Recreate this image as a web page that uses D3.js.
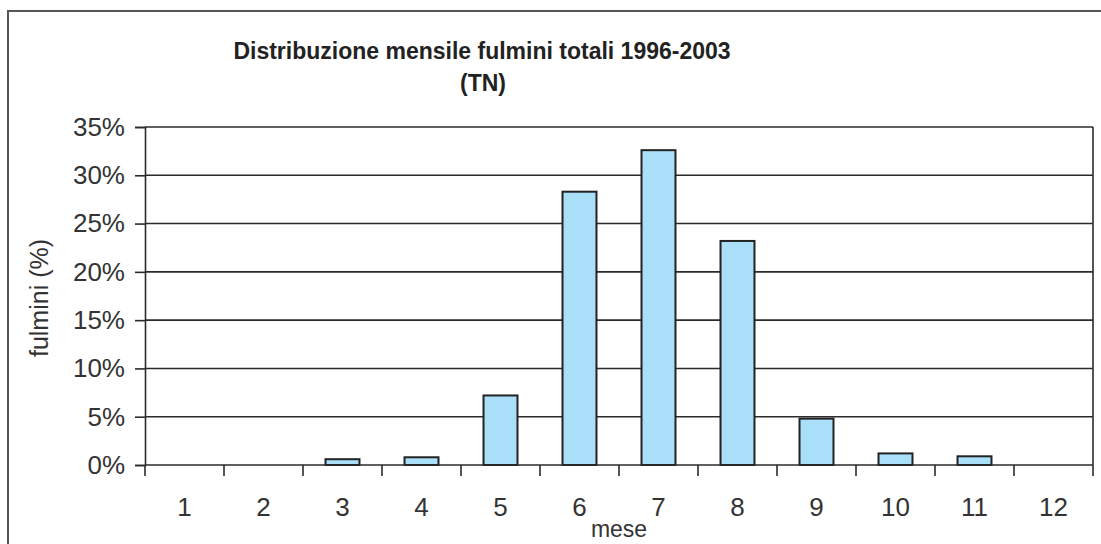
<!DOCTYPE html>
<html>
<head>
<meta charset="utf-8">
<script src="https://cdn.jsdelivr.net/npm/d3@7"></script>
<style>
  html, body { margin: 0; padding: 0; background: #fff; }
  svg { display: block; font-family: "Liberation Sans", Arial, Helvetica, sans-serif; }
</style>
</head>
<body>
<svg id="chart" width="1101" height="544"></svg>
<script>
const months = ["1","2","3","4","5","6","7","8","9","10","11","12"];
const values = [0, 0, 0.6, 0.8, 7.2, 28.3, 32.6, 23.2, 4.8, 1.2, 0.9, 0];
const yTicks = [0, 5, 10, 15, 20, 25, 30, 35];
const titleLines = ["Distribuzione mensile fulmini totali 1996-2003", "(TN)"];
const xLabel = "mese";
const yLabel = "fulmini (%)";

const svg = d3.select("#chart");
const W = 1101, H = 544;
const m = { left: 145, right: 1093, top: 127, bottom: 465 };
const ink = "#2b2b2b";

// outer chart border (cut off on right and bottom)
svg.append("rect")
  .attr("x", 8).attr("y", 11)
  .attr("width", W + 20).attr("height", H + 20)
  .attr("fill", "none").attr("stroke", "#555").attr("stroke-width", 2);

const x = d3.scaleBand().domain(months).range([m.left, m.right]).paddingInner(0.57).paddingOuter(0.285);
const xEdges = d3.scaleLinear().domain([0, months.length]).range([m.left, m.right]);
const y = d3.scaleLinear().domain([0, 35]).range([m.bottom, m.top]);

// gridlines
svg.append("g").selectAll("line").data(yTicks.filter(d => d > 0)).join("line")
  .attr("x1", m.left).attr("x2", m.right)
  .attr("y1", d => y(d)).attr("y2", d => y(d))
  .attr("stroke", ink).attr("stroke-width", 1.6);

// right frame border
svg.append("line")
  .attr("x1", m.right).attr("x2", m.right)
  .attr("y1", m.top).attr("y2", m.bottom)
  .attr("stroke", ink).attr("stroke-width", 1.6);

// bars
svg.append("g").selectAll("rect").data(values).join("rect")
  .attr("x", (d, i) => x(months[i]))
  .attr("width", x.bandwidth())
  .attr("y", d => y(d))
  .attr("height", d => y(0) - y(d))
  .attr("fill", "#aadff9")
  .attr("stroke", "#222")
  .attr("stroke-width", 2)
  .style("display", d => d > 0 ? null : "none");

// y axis
const yAxis = d3.axisLeft(y).tickValues(yTicks).tickFormat(d => d + "%").tickSize(10).tickPadding(10);
const gy = svg.append("g").attr("transform", `translate(${m.left},0)`).call(yAxis);
gy.select(".domain").attr("stroke", ink).attr("stroke-width", 1.6);
gy.selectAll(".tick line").attr("stroke", ink).attr("stroke-width", 1.6);
gy.selectAll(".tick text").attr("font-size", 26).attr("fill", "#333")
  .attr("font-family", "Liberation Sans, Arial, sans-serif");

// x axis baseline
svg.append("line")
  .attr("x1", m.left).attr("x2", m.right)
  .attr("y1", y(0)).attr("y2", y(0))
  .attr("stroke", ink).attr("stroke-width", 1.6);

// x tick marks between categories
svg.append("g").selectAll("line").data(d3.range(months.length + 1)).join("line")
  .attr("x1", d => xEdges(d)).attr("x2", d => xEdges(d))
  .attr("y1", y(0)).attr("y2", y(0) + 11)
  .attr("stroke", ink).attr("stroke-width", 1.6);

// x labels
const xAxis = d3.axisBottom(x).tickSize(0).tickPadding(0);
const gx = svg.append("g").attr("transform", `translate(0,${m.bottom})`).call(xAxis);
gx.select(".domain").remove();
gx.selectAll(".tick text").attr("font-size", 26).attr("fill", "#333")
  .attr("y", 0).attr("dy", 0)
  .attr("transform", "translate(0,51)")
  .attr("font-family", "Liberation Sans, Arial, sans-serif");

// title
svg.append("text").attr("x", 482).attr("y", 59).attr("text-anchor", "middle")
  .attr("font-size", 23).attr("font-weight", "bold").attr("fill", "#222")
  .text(titleLines[0]);
svg.append("text").attr("x", 483).attr("y", 91).attr("text-anchor", "middle")
  .attr("font-size", 23).attr("font-weight", "bold").attr("fill", "#222")
  .text(titleLines[1]);

// axis titles
svg.append("text").attr("x", 619).attr("y", 537).attr("text-anchor", "middle")
  .attr("font-size", 23).attr("fill", "#333").text(xLabel);
svg.append("text").attr("transform", "translate(48,298) rotate(-90)").attr("text-anchor", "middle")
  .attr("font-size", 25).attr("fill", "#333").text(yLabel);
</script>
</body>
</html>
